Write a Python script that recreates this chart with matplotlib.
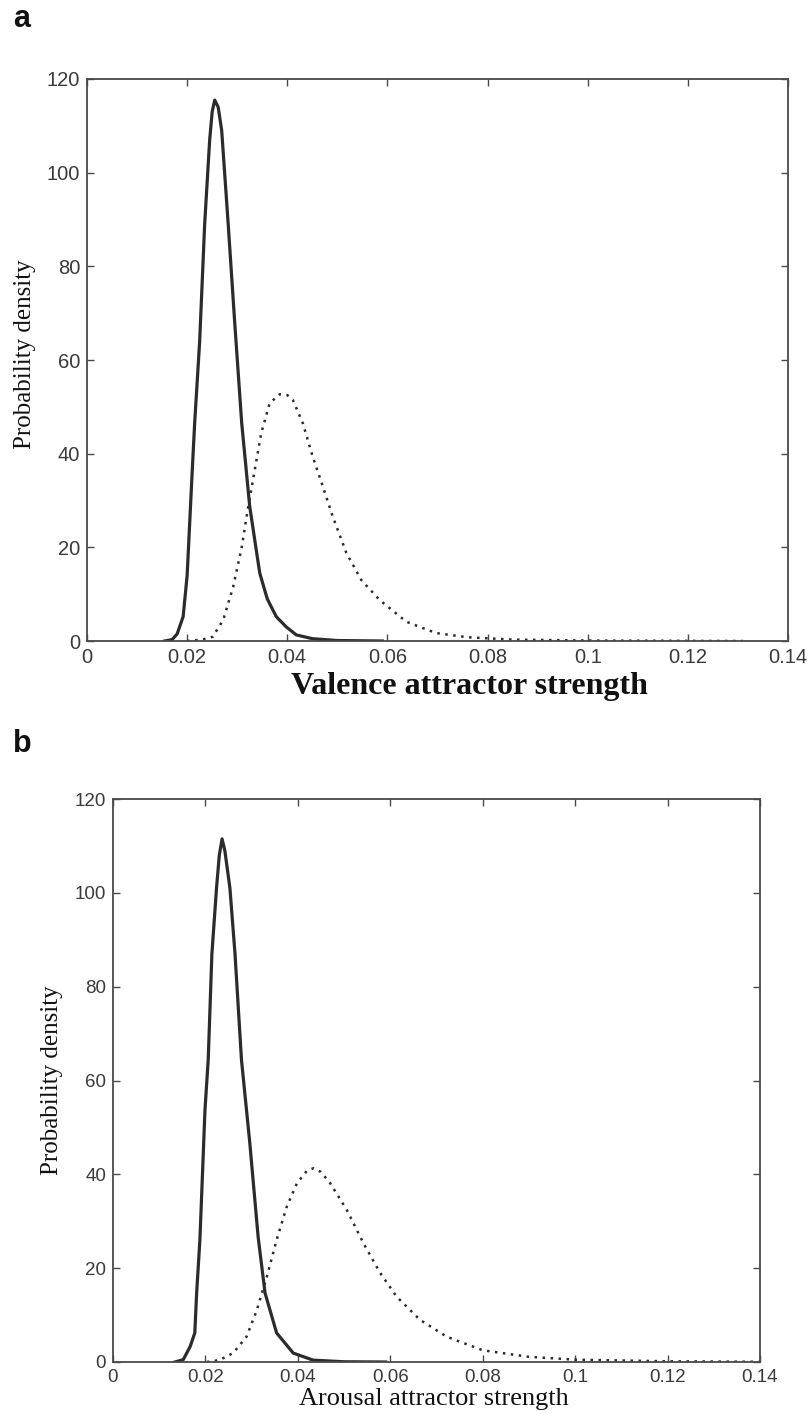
import matplotlib
matplotlib.use("Agg")
import matplotlib.pyplot as plt
from matplotlib.ticker import FixedLocator, FuncFormatter

# ---------------- data ----------------
xticks = [0, 0.02, 0.04, 0.06, 0.08, 0.1, 0.12, 0.14]
yticks = [0, 20, 40, 60, 80, 100, 120]

# Panel a: valence
val_solid_x = [0.0155, 0.0170, 0.0180, 0.0192, 0.0200, 0.0205, 0.0210, 0.0215,
               0.0225, 0.0235, 0.0245, 0.0250, 0.0255, 0.0262, 0.0269, 0.0282,
               0.0295, 0.0309, 0.0325, 0.0345, 0.0360, 0.0378, 0.0398, 0.0418,
               0.0450, 0.0500, 0.0590]
val_solid_y = [0, 0.3, 1.5, 5.2, 14, 25, 36, 46.5,
               64, 89, 107, 113, 115.5, 114, 109, 89,
               68, 46.5, 28.7, 14.5, 9, 5.2, 3, 1.3,
               0.5, 0.1, 0]

val_dot_x = [0.0200, 0.0230, 0.0251, 0.0272, 0.0292, 0.0309, 0.0322, 0.0335,
             0.0348, 0.0365, 0.0385, 0.0400, 0.0411, 0.0431, 0.0451, 0.0471,
             0.0491, 0.0518, 0.0548, 0.0584, 0.0638, 0.0697, 0.0760, 0.0850,
             0.1000, 0.1310]
val_dot_y = [0, 0.3, 0.9, 4.5, 11.6, 20, 28.7, 36.5,
             44.4, 50.8, 52.7, 52.5, 51.5, 46.5, 39.3, 33,
             26.5, 18.8, 13, 8.8, 4.1, 1.7, 0.8, 0.3,
             0.1, 0]

# Panel b: arousal
aro_solid_x = [0.0134, 0.0152, 0.0167, 0.0177, 0.0181, 0.0188, 0.0192, 0.0199,
               0.0206, 0.0214, 0.0224, 0.0230, 0.0236, 0.0242, 0.0253, 0.0264,
               0.0278, 0.0296, 0.0314, 0.0329, 0.0354, 0.0390, 0.0433, 0.0500,
               0.0590]
aro_solid_y = [0, 0.5, 3.3, 6.2, 14.7, 26, 36, 53.7,
               64.4, 87, 101, 108, 111.5, 109, 101, 87,
               64.4, 46.7, 26.7, 14.7, 6.2, 1.9, 0.4, 0.05,
               0]

aro_dot_x = [0.0203, 0.0230, 0.0260, 0.0289, 0.0311, 0.0333, 0.0354, 0.0376,
             0.0398, 0.0420, 0.0434, 0.0450, 0.0470, 0.0506, 0.0542, 0.0578,
             0.0614, 0.0664, 0.0722, 0.0800, 0.0900, 0.1000, 0.1200, 0.1400]
aro_dot_y = [0, 0.4, 1.9, 5.4, 11, 18.2, 26, 33.1,
             38.1, 40.8, 41.3, 40.5, 38.1, 32.4, 25.3, 19,
             13.9, 9, 5.4, 2.5, 1.1, 0.5, 0.15, 0.05]

# ---------------- figure ----------------
W, H = 810, 1414
fig = plt.figure(figsize=(W / 100, H / 100), dpi=100)
fig.patch.set_facecolor("white")

axis_col = "#4a4a4a"
tick_col = "#3a3a3a"
line_col = "#2b2b2b"
serif = ["Liberation Serif", "DejaVu Serif"]
sans = ["Liberation Sans", "DejaVu Sans"]


def fmt(v, pos):
    return "%g" % v


def style_axes(ax, tick_size):
    ax.set_xlim(0, 0.14)
    ax.set_ylim(0, 120)
    ax.xaxis.set_major_locator(FixedLocator(xticks))
    ax.yaxis.set_major_locator(FixedLocator(yticks))
    ax.xaxis.set_major_formatter(FuncFormatter(fmt))
    ax.yaxis.set_major_formatter(FuncFormatter(fmt))
    ax.tick_params(direction="in", top=True, right=True, length=5, width=1.0,
                   color=axis_col, labelcolor=tick_col, labelsize=tick_size)
    ax.tick_params(axis="x", pad=5)
    ax.tick_params(axis="y", pad=5)
    for lab in ax.get_xticklabels() + ax.get_yticklabels():
        lab.set_family(sans)
    for sp in ax.spines.values():
        sp.set_color(axis_col)
        sp.set_linewidth(1.3)


# Panel a
ax1 = fig.add_axes([87 / W, 1 - 641 / H, 701 / W, 562 / H])
ax1.plot(val_solid_x, val_solid_y, color=line_col, lw=2.3, solid_joinstyle="round")
ax1.plot(val_dot_x, val_dot_y, color=line_col, lw=1.8, linestyle=(0, (1, 2.2)))
style_axes(ax1, 14.5)
ax1.set_xlabel("Valence attractor strength", family=serif, fontsize=23,
               fontweight="bold", color="#111111")
ax1.xaxis.set_label_coords(0.546, -0.055)
ax1.set_ylabel("Probability density", family=serif, fontsize=18, color="#111111")
ax1.yaxis.set_label_coords(-0.073, 0.51)

# Panel b
ax2 = fig.add_axes([113 / W, 1 - 1362 / H, 647 / W, 563 / H])
ax2.plot(aro_solid_x, aro_solid_y, color=line_col, lw=2.3, solid_joinstyle="round")
ax2.plot(aro_dot_x, aro_dot_y, color=line_col, lw=1.8, linestyle=(0, (1, 2.2)))
style_axes(ax2, 13.5)
ax2.set_xlabel("Arousal attractor strength", family=serif, fontsize=19,
               color="#111111")
ax2.xaxis.set_label_coords(0.496, -0.046)
ax2.set_ylabel("Probability density", family=serif, fontsize=18, color="#111111")
ax2.yaxis.set_label_coords(-0.077, 0.5)

# Panel letters
fig.text(13 / W, 1 - 27 / H, "a", family=sans, fontsize=22, fontweight="bold",
         ha="left", va="baseline", color="#111111")
fig.text(13 / W, 1 - 752 / H, "b", family=sans, fontsize=22, fontweight="bold",
         ha="left", va="baseline", color="#111111")

fig.savefig("out.png", dpi=100, facecolor="white")
